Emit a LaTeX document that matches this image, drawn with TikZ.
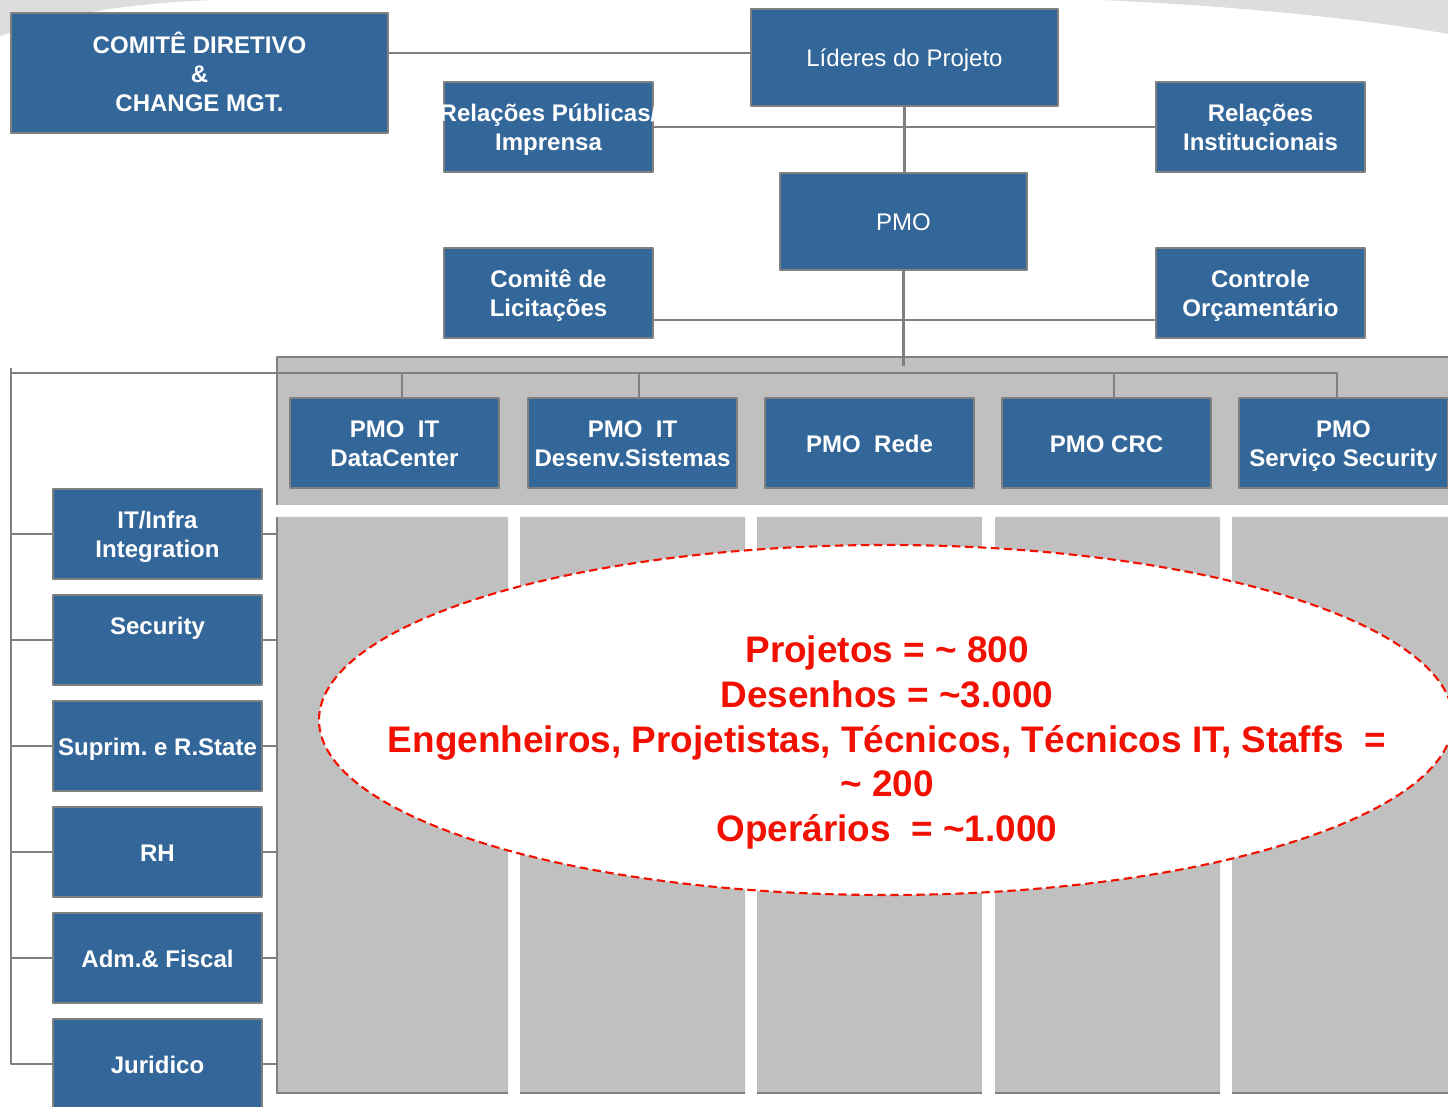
\documentclass[tikz,border=0pt]{standalone}
\usepackage{fontspec}
\setmainfont{Liberation Sans}
\frenchspacing
\definecolor{boxblue}{HTML}{336699}
\definecolor{lnk}{HTML}{808080}
\definecolor{panelgray}{HTML}{C0C0C0}
\definecolor{swoosh}{HTML}{DDDDDD}
\definecolor{statred}{HTML}{F21000}
\newcommand\boxfont{\fontsize{6.83}{8.25}\selectfont}
\newcommand\statfont{\fontsize{10.5}{12.7}\selectfont}
\newcommand\up[1][0.98em]{\rule{0pt}{#1}}
\tikzset{
  blk/.style={draw=lnk, line width=0.6pt, fill=boxblue, text=white, font=\boxfont\bfseries,
    inner sep=0pt, align=center, minimum width=2.09cm, minimum height=0.9cm,
    execute at begin node={\up}, execute at end node={\rule[-0.21em]{0pt}{0pt}}},
  link/.style={draw=lnk, line width=0.6pt},
  stats/.style={text=statred, font=\statfont\bfseries, align=center, inner sep=0pt,
    execute at end node={\rule[-0.21em]{0pt}{0pt}}}
}
\begin{document}
\begin{tikzpicture}[x=0.01cm, y=-0.01cm, line join=round]
    \useasboundingbox (0,0) rectangle (1448,1107);
    \clip (0,0) rectangle (1448,1107);
    \fill[swoosh] (0,0) -- (0,36) .. controls (60,14) and (130,3) .. (215,0) -- cycle;
    \fill[swoosh] (1100,0) .. controls (1240,6) and (1370,20) .. (1448,34) -- (1448,0) -- cycle;
    \fill[panelgray] (277,357) rectangle (1460,505);
    \draw[link] (1460,357) -- (277,357) -- (277,505);
    \fill[panelgray] (277,517) rectangle (508,1093) (520,517) rectangle (745,1093)
        (757,517) rectangle (982,1093) (995,517) rectangle (1220,1093) (1232,517) rectangle (1460,1093);
    \draw[link] (277,517) -- (277,1093) -- (508,1093) (520,1093) -- (745,1093)
        (757,1093) -- (982,1093) (995,1093) -- (1220,1093) (1232,1093) -- (1460,1093);
    \coordinate (colL) at (277,517);
    \draw[statred, line width=0.6pt, dash pattern=on 2.4pt off 1.3pt, fill=white] (886,720) ellipse (567 and 175);
    \node[stats] (figures) at (887,739.5) {\up[0.89em]Projetos = \textasciitilde{} 800\\Desenhos = \textasciitilde3.000\\
        Engenheiros, Projetistas, Técnicos, Técnicos IT, Staffs\ \ =\\\textasciitilde{} 200\\Operários\ \ = \textasciitilde1.000};
    \node[blk, minimum width=3.77cm, minimum height=1.2cm] (comite) at (199.5,73) {\up COMITÊ DIRETIVO\\\&\\CHANGE MGT.};
    \node[blk, font=\boxfont, minimum width=3.07cm, minimum height=0.97cm] (lideres) at (904.5,57.5) {Líderes do Projeto};
    \node[blk] (relpub) at (548.5,127) {\up\makebox[0pt]{Relações Públicas/}\\Imprensa};
    \node[blk] (relinst) at (1260.5,127) {\up Relações\\Institucionais};
    \node[blk, font=\boxfont, minimum width=2.47cm, minimum height=0.97cm] (pmo) at (903.5,221.5) {PMO};
    \node[blk] (licit) at (548.5,293) {\up Comitê de\\Licitações};
    \node[blk] (orcam) at (1260.5,293) {\up Controle\\Orçamentário};
    \node[blk] (pmoit) at (394.5,443) {\up PMO\ \ IT\\DataCenter};
    \node[blk] (pmodev) at (632.5,443) {\up PMO\ \ IT\\Desenv.Sistemas};
    \node[blk] (pmorede) at (869.5,443) {PMO\ \ Rede};
    \node[blk] (pmocrc) at (1106.5,443) {PMO CRC};
    \node[blk] (pmosec) at (1343.5,443) {\up PMO\\Serviço Security};
    \node[blk] (infra) at (157.5,534) {\up IT/Infra\\Integration};
    \node[blk] (secur) at (157.5,640) {\up Security\\\mbox{}};
    \node[blk] (suprim) at (157.5,746) {Suprim. e R.State};
    \node[blk] (rh) at (157.5,852) {RH};
    \node[blk] (adm) at (157.5,958) {Adm.\& Fiscal};
    \node[blk] (jur) at (157.5,1064) {Juridico};
    \coordinate (ltop) at ([yshift=0.045cm]lideres.west);
    \draw[link] (ltop) -- (ltop -| comite.east);
    \draw[link] (lideres.south) -- (lideres.south |- pmo.north);
    \draw[link] (relpub.east) -- (relinst.west);
    \coordinate (lbar) at ([yshift=-0.27cm]licit.east);
    \draw[link] (lbar) -- (lbar -| orcam.west);
    \coordinate (pmoend) at (905,366);
    \draw[link] (pmo.south) -- (pmo.south |- pmoend);
    \coordinate (railtop) at (11,368);
    \coordinate (busL) at (11,373);
    \coordinate (d1) at ([xshift=0.075cm]pmoit.north);
    \coordinate (d2) at ([xshift=0.065cm]pmodev.north);
    \coordinate (d4) at ([xshift=0.075cm]pmocrc.north);
    \coordinate (d5) at ([xshift=-0.065cm]pmosec.north);
    \draw[link] (busL) -| (d5);
    \draw[link] (d1) -- (d1 |- busL) (d2) -- (d2 |- busL) (d4) -- (d4 |- busL);
    \draw[link] (railtop) |- (jur.west);
    \draw[link] (infra.west -| railtop) -- (infra.west) (secur.west -| railtop) -- (secur.west)
        (suprim.west -| railtop) -- (suprim.west) (rh.west -| railtop) -- (rh.west)
        (adm.west -| railtop) -- (adm.west);
    \draw[link] (infra.east) -- (infra.east -| colL) (secur.east) -- (secur.east -| colL)
        (suprim.east) -- (suprim.east -| colL) (rh.east) -- (rh.east -| colL)
        (adm.east) -- (adm.east -| colL) (jur.east) -- (jur.east -| colL);
\end{tikzpicture}
\end{document}
